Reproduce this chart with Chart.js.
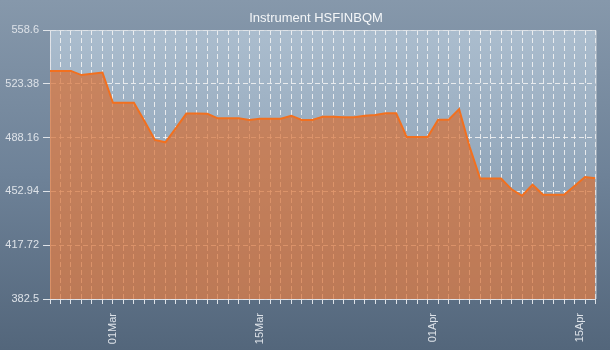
<!DOCTYPE html>
<html>
<head>
<meta charset="utf-8">
<title>Instrument HSFINBQM</title>
<script src="https://cdn.jsdelivr.net/npm/chart.js@4/dist/chart.umd.min.js"></script>
<style>
  html, body { margin: 0; padding: 0; }
  body {
    width: 610px; height: 350px; overflow: hidden;
    background: linear-gradient(to bottom, #8698ab 0%, #6e8298 50%, #53667b 100%);
  }
  #wrap { position: relative; width: 610px; height: 350px; }
</style>
</head>
<body>
<div id="wrap"><canvas id="chart" width="610" height="350"></canvas></div>
<script>
// Daily dates, one per point
const dates = [
  '23Feb','24Feb','25Feb','26Feb','27Feb','28Feb',
  '01Mar','02Mar','03Mar','04Mar','05Mar','06Mar','07Mar','08Mar','09Mar','10Mar',
  '11Mar','12Mar','13Mar','14Mar','15Mar','16Mar','17Mar','18Mar','19Mar','20Mar',
  '21Mar','22Mar','23Mar','24Mar','25Mar','26Mar','27Mar','28Mar','29Mar','30Mar','31Mar',
  '01Apr','02Apr','03Apr','04Apr','05Apr','06Apr','07Apr','08Apr','09Apr','10Apr',
  '11Apr','12Apr','13Apr','14Apr','15Apr','16Apr'
];

// Instrument level per day
const prices = [
  531.8, 531.8, 531.8, 529.1, 530.0, 530.8,
  511.0, 511.0, 511.0, 499.0, 486.6, 485.1, 494.4, 503.9, 503.9, 503.8,
  500.8, 500.8, 500.8, 499.7, 500.5, 500.5, 500.5, 502.5, 499.7, 499.7,
  501.8, 501.8, 501.5, 501.5, 502.5, 503.0, 504.1, 504.1, 488.6, 488.6, 488.6,
  499.9, 499.9, 506.8, 482.2, 461.4, 461.4, 461.4, 454.3, 450.1, 457.3,
  450.8, 450.8, 450.8, 456.5, 462.4, 461.5
];

// Date labels on the time axis and where they sit, in days from the first point
const labelledDates = ['01Mar', '15Mar', '01Apr', '15Apr'];
const labelDays = [6, 20, 36.5, 50.5];

// Value-axis ticks
const valueTicks = [382.5, 417.72, 452.94, 488.16, 523.38, 558.6];

const TITLE = 'Instrument HSFINBQM';
const FONT = "'Liberation Sans', Arial, sans-serif";
const TEXT = '#dde2e8';
const GRID = 'rgba(245,245,245,0.85)';
const TICK = 'rgba(230,233,237,0.95)';

const points = prices.map((p, i) => ({ x: i, y: p }));

// Plot-area backdrop, frame and heading
const plotFrame = {
  id: 'plotFrame',
  beforeDraw(chart) {
    const { ctx, chartArea: a } = chart;
    const g = ctx.createLinearGradient(0, a.top, 0, a.bottom);
    g.addColorStop(0, '#abbdce');
    g.addColorStop(1, '#7f95ab');
    ctx.save();
    ctx.fillStyle = g;
    ctx.fillRect(a.left, a.top, a.right - a.left, a.bottom - a.top);
    ctx.restore();
  },
  afterDatasetsDraw(chart) {
    const { ctx, chartArea: a } = chart;
    ctx.save();
    ctx.strokeStyle = 'rgba(220,225,230,0.8)';
    ctx.lineWidth = 1;
    ctx.beginPath();
    ctx.moveTo(a.left, a.top + 0.5);
    ctx.lineTo(a.right + 0.5, a.top + 0.5);
    ctx.lineTo(a.right + 0.5, a.bottom);
    ctx.stroke();
    ctx.restore();
  },
  afterDraw(chart) {
    const { ctx } = chart;
    ctx.save();
    ctx.fillStyle = '#f4f6f8';
    ctx.font = '13px ' + FONT;
    ctx.textAlign = 'center';
    ctx.textBaseline = 'alphabetic';
    ctx.fillText(TITLE, 316, 22);
    ctx.restore();
  }
};

const onDay = (c) => c.tick && Number.isInteger(c.tick.value);

new Chart(document.getElementById('chart'), {
  type: 'line',
  data: {
    datasets: [{
      data: points,
      borderColor: '#f2701f',
      borderWidth: 2,
      backgroundColor: 'rgba(215,110,50,0.7)',
      fill: 'start',
      pointRadius: 0,
      tension: 0
    }]
  },
  options: {
    responsive: false,
    animation: false,
    parsing: false,
    layout: { padding: { left: 0, right: 14.5, top: 30, bottom: 0 } },
    plugins: {
      legend: { display: false },
      tooltip: { enabled: false },
      title: { display: false }
    },
    scales: {
      x: {
        type: 'linear',
        min: 0,
        max: dates.length - 1,
        afterBuildTicks(scale) {
          const ticks = dates.map((d, i) => ({ value: i }));
          labelDays.forEach(v => { if (!Number.isInteger(v)) ticks.push({ value: v }); });
          ticks.sort((a, b) => a.value - b.value);
          scale.ticks = ticks;
        },
        grid: {
          color: (c) => onDay(c) ? GRID : 'rgba(0,0,0,0)',
          lineWidth: 1,
          tickLength: 5,
          tickColor: (c) => onDay(c) ? TICK : 'rgba(0,0,0,0)',
          tickBorderDash: []
        },
        border: { display: true, color: 'rgba(225,228,232,0.95)', width: 1, dash: [5, 3] },
        ticks: {
          autoSkip: false,
          minRotation: 90,
          maxRotation: 90,
          padding: 9,
          color: TEXT,
          font: { family: FONT, size: 11 },
          callback(value) {
            const k = labelDays.indexOf(value);
            return k >= 0 ? labelledDates[k] : '';
          }
        },
        afterFit(scale) {
          scale.height = 51;
          scale.paddingLeft = 0;
          scale.paddingRight = 0;
        }
      },
      y: {
        min: valueTicks[0],
        max: valueTicks[valueTicks.length - 1],
        afterBuildTicks(scale) {
          scale.ticks = valueTicks.map(v => ({ value: v }));
        },
        grid: {
          color: GRID,
          lineWidth: 1,
          tickLength: 7,
          tickColor: TICK,
          tickBorderDash: []
        },
        border: { display: true, color: 'rgba(225,228,232,0.95)', width: 1, dash: [5, 3] },
        ticks: {
          padding: 4,
          color: TEXT,
          font: { family: FONT, size: 11 },
          callback(value) { return String(value); }
        },
        afterFit(scale) {
          scale.width = 50;
          scale.paddingTop = 0;
          scale.paddingBottom = 0;
        }
      }
    }
  },
  plugins: [plotFrame]
});
</script>
</body>
</html>
